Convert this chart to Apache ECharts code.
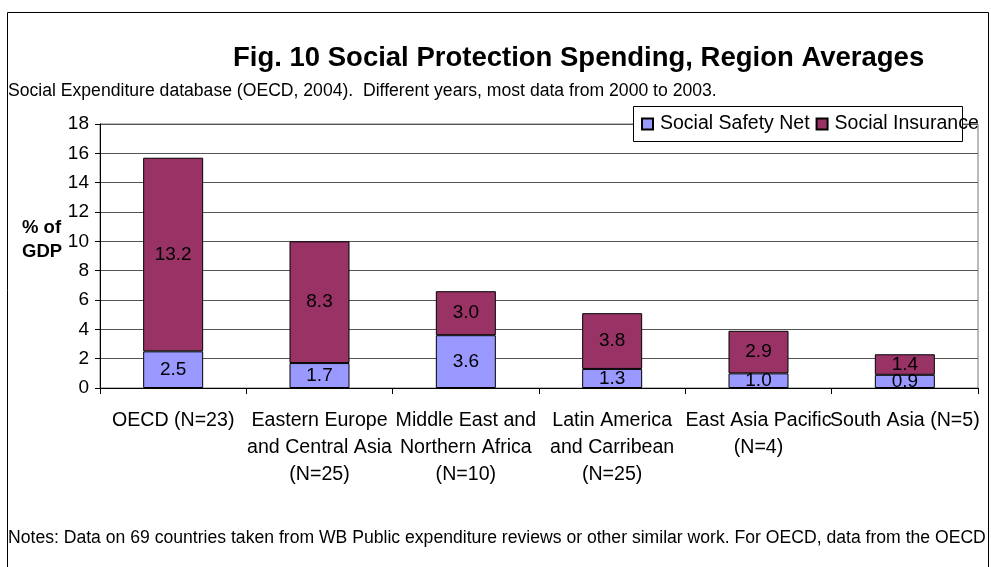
<!DOCTYPE html>
<html>
<head>
<meta charset="utf-8">
<script src="https://cdn.jsdelivr.net/npm/echarts@6/dist/echarts.min.js"></script>
<style>
  html, body { margin: 0; padding: 0; background: #fff; }
  #chart { width: 991px; height: 567px; }
</style>
</head>
<body>
<div id="chart"></div>
<script>
// Region averages of social protection spending, % of GDP
const regions = [
  'OECD (N=23)',
  'Eastern Europe\nand Central Asia\n(N=25)',
  'Middle East and\nNorthern Africa\n(N=10)',
  'Latin America\nand Carribean\n(N=25)',
  'East Asia Pacific\n(N=4)',
  'South Asia (N=5)'
];
const safetyNet = [2.5, 1.7, 3.6, 1.3, 1.0, 0.9];
const socialInsurance = [13.2, 8.3, 3.0, 3.8, 2.9, 1.4];
const yTicks = [0, 2, 4, 6, 8, 10, 12, 14, 16, 18];

const FONT = '"Liberation Sans", Arial, Helvetica, sans-serif';

const chart = echarts.init(document.getElementById('chart'), null, { renderer: 'canvas' });

const segLabel = {
  show: true,
  position: 'inside',
  fontFamily: FONT,
  fontSize: 19,
  color: '#000',
  formatter: p => p.value.toFixed(1)
};

chart.setOption({
  animation: false,
  backgroundColor: '#fff',
  title: [
    {
      text: 'Fig. 10 Social Protection Spending, Region Averages',
      left: 233, top: 44, padding: 0,
      textStyle: { fontFamily: FONT, fontSize: 27.5, fontWeight: 'bold', color: '#000' }
    },
    {
      text: 'Social Expenditure database (OECD, 2004).  Different years, most data from 2000 to 2003.',
      left: 8, top: 82, padding: 0,
      textStyle: { fontFamily: FONT, fontSize: 17.6, fontWeight: 'normal', color: '#000' }
    },
    {
      text: 'Notes: Data on 69 countries taken from WB Public expenditure reviews or other similar work. For OECD, data from the OECD',
      left: 8, top: 529, padding: 0,
      textStyle: { fontFamily: FONT, fontSize: 17.6, fontWeight: 'normal', color: '#000' }
    }
  ],
  legend: {
    left: 641, top: 114, padding: 0,
    itemWidth: 11, itemHeight: 11, itemGap: 6,
    icon: 'rect',
    z: 5,
    textStyle: { fontFamily: FONT, fontSize: 19.5, color: '#000', padding: [0, 0, 0, 2] },
    data: ['Social Safety Net', 'Social Insurance']
  },
  graphic: [
    {
      type: 'rect', z: 4, silent: true,
      shape: { x: 633.5, y: 106.5, width: 329, height: 35 },
      style: { fill: '#fff', stroke: '#000', lineWidth: 1 }
    },
    {
      type: 'rect', z: 0, silent: true,
      shape: { x: 7.5, y: 12.5, width: 981, height: 620 },
      style: { fill: 'none', stroke: '#000', lineWidth: 1 }
    },
    {
      type: 'text', left: 22, top: 216, z: 5,
      style: {
        text: '% of\nGDP', fontFamily: FONT, fontSize: 18.5, fontWeight: 'bold',
        fill: '#000', lineHeight: 24, align: 'left'
      }
    }
  ],
  grid: {
    left: 100, right: 13, top: 124, bottom: 179,
    show: true, borderColor: '#777', borderWidth: 1, backgroundColor: 'transparent'
  },
  xAxis: {
    type: 'category',
    data: regions,
    axisLine: { lineStyle: { color: '#000', width: 1 } },
    axisTick: { show: true, length: 6, inside: false, lineStyle: { color: '#000' } },
    axisLabel: {
      interval: 0, hideOverlap: false, margin: 19,
      fontFamily: FONT, fontSize: 19.6, color: '#000', lineHeight: 27, align: 'center'
    }
  },
  yAxis: {
    type: 'value',
    min: yTicks[0], max: yTicks[yTicks.length - 1], interval: 2,
    axisLine: { show: true, lineStyle: { color: '#000', width: 1 } },
    axisTick: { show: true, length: 5, inside: false, lineStyle: { color: '#000' } },
    axisLabel: { margin: 11, fontFamily: FONT, fontSize: 19, color: '#000' },
    splitLine: { show: true, lineStyle: { color: '#555', width: 1 } }
  },
  series: [
    {
      name: 'Social Safety Net',
      type: 'bar', stack: 'total', barWidth: 60,
      data: safetyNet,
      itemStyle: { color: '#9999FF', borderColor: '#000', borderWidth: 1 },
      label: segLabel
    },
    {
      name: 'Social Insurance',
      type: 'bar', stack: 'total', barWidth: 60,
      data: socialInsurance,
      itemStyle: { color: '#993366', borderColor: '#000', borderWidth: 1 },
      label: segLabel
    }
  ]
});
</script>
</body>
</html>
